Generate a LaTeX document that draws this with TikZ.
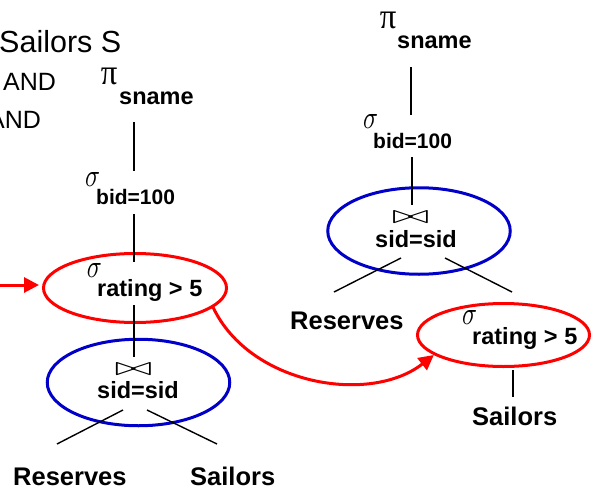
\documentclass[tikz,border=0pt]{standalone}
\usepackage{fontspec}
\usepackage{graphicx}
\usetikzlibrary{shapes.geometric,arrows.meta}
\newfontfamily\lsans{Liberation Sans}
\newfontfamily\lserif{Liberation Serif}
\definecolor{opred}{RGB}{255,0,0}
\definecolor{opblue}{RGB}{0,0,200}
\newcommand\pisign{\resizebox{16.5pt}{16.5pt}{\lserif π}}
\newcommand\sigsign{\resizebox{15pt}{14pt}{$\sigma$}}
\newcommand\joinsign{\resizebox{37pt}{12pt}{$\bowtie$}}
\tikzset{
  qline/.style={anchor=base west, inner sep=0pt, font=\lsans\fontsize{25}{30}\selectfont},
  opname/.style={anchor=base west, inner sep=0pt, font=\lsans\bfseries\fontsize{23.5}{28}\selectfont},
  subname/.style={anchor=base west, inner sep=0pt, font=\lsans\bfseries\fontsize{21}{25}\selectfont},
  relname/.style={anchor=base west, inner sep=0pt, font=\lsans\bfseries\fontsize{25.5}{30}\selectfont},
  glyph/.style={anchor=center, inner sep=0pt},
  edge/.style={draw=black, line width=1.4pt},
  selring/.style={ellipse, draw=opred, line width=3pt, inner sep=0pt},
  joinring/.style={ellipse, draw=opblue, line width=3pt, inner sep=0pt,
    minimum width=182.5pt, minimum height=86.5pt},
  flow/.style={draw=opred, line width=3pt, -{Triangle[length=15pt,width=15pt]}},
}
\begin{document}
\begin{tikzpicture}[x=1pt,y=-1pt]
\useasboundingbox (0,0) rectangle (592,490);
\clip (0,0) rectangle (592,490);

% fragment of the SQL query
\node[qline, font=\lsans\fontsize{30.5}{36}\selectfont] (q1) at (-1,52) {Sailors S};
\node[qline] (q2) at (3,90) {AND};
\node[qline] (q3) at (-12,128) {AND};

% ---------- left plan ----------
\node[selring, minimum width=183pt, minimum height=69pt] (Lsel) at (135,288) {};
\node[joinring] (Ljoin) at (138.5,382.5) {};

\node[glyph] (Lpi) at (109,76.5) {\pisign};
\node[opname] (Lproj) at (119,104) {sname};
\node[glyph] (Lsig1) at (92.5,179) {\sigsign};
\node[subname] (Lbid) at (96,204) {bid=100};
\node[glyph] (Lsig2) at (94.5,270.5) {\sigsign};
\node[opname] (Lrat) at (97,296) {rating > 5};
\node[glyph] (Lbow) at (133.5,369) {\joinsign};
\node[opname] (Lsid) at (97,398) {sid=sid};
\node[relname] (Lres) at (13,485) {Reserves};
\node[relname] (Lsai) at (190,485) {Sailors};

\coordinate (Le1a) at (134,122); \coordinate (Le1b) at (134,171);
\coordinate (Le2a) at (134,214); \coordinate (Le2b) at (134,262);
\coordinate (Le3a) at (134,305); \coordinate (Le3b) at (134,357);
\coordinate (Le4a) at (123,410); \coordinate (Le4b) at (57,444);
\coordinate (Le5a) at (147,410); \coordinate (Le5b) at (217,444);
\draw[edge] (Le1a) -- (Le1b);
\draw[edge] (Le2a) -- (Le2b);
\draw[edge] (Le3a) -- (Le3b);
\draw[edge] (Le4a) -- (Le4b);
\draw[edge] (Le5a) -- (Le5b);

% ---------- right plan ----------
\node[joinring] (Rjoin) at (419,231) {};
\node[selring, minimum width=172pt, minimum height=63pt] (Rsel) at (503.5,335) {};

\node[glyph] (Rpi) at (388,20.5) {\pisign};
\node[opname] (Rproj) at (397,48) {sname};
\node[glyph] (Rsig1) at (370.5,121.5) {\sigsign};
\node[subname] (Rbid) at (373,148) {bid=100};
\node[glyph] (Rbow) at (410.5,217) {\joinsign};
\node[opname] (Rsid) at (375,247) {sid=sid};
\node[relname] (Rres) at (290,329) {Reserves};
\node[glyph] (Rsig2) at (469.5,317.5) {\sigsign};
\node[opname] (Rrat) at (472,344) {rating > 5};
\node[relname] (Rsai) at (472,425) {Sailors};

\coordinate (Re1a) at (411,67);  \coordinate (Re1b) at (411,115);
\coordinate (Re2a) at (412,157); \coordinate (Re2b) at (412,205);
\coordinate (Re3a) at (401,258); \coordinate (Re3b) at (334,292);
\coordinate (Re4a) at (445,258); \coordinate (Re4b) at (512,292);
\coordinate (Re5a) at (513,370); \coordinate (Re5b) at (513,397);
\draw[edge] (Re1a) -- (Re1b);
\draw[edge] (Re2a) -- (Re2b);
\draw[edge] (Re3a) -- (Re3b);
\draw[edge] (Re4a) -- (Re4b);
\draw[edge] (Re5a) -- (Re5b);

% ---------- selection push-down ----------
\coordinate (Lin) at (-2,285);
\draw[flow, shorten >=3pt] (Lin) -- (Lin -| Lsel.west);
\draw[flow] (Lsel.-14) .. controls (250,385) and (370,405) .. (Rsel.196);
\end{tikzpicture}
\end{document}
